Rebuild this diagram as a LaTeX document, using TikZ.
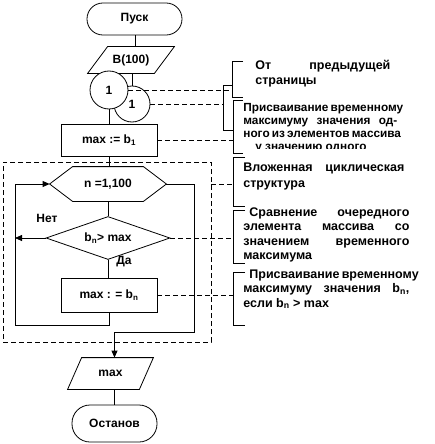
\documentclass[tikz,border=0pt]{standalone}
\usepackage{fontspec}
\setmainfont{Liberation Sans}
\usetikzlibrary{arrows.meta,shapes.geometric,calc}
\newcommand\jline[2]{\makebox[#1][s]{#2}}
\begin{document}
\begin{tikzpicture}[x=1pt,y=-1pt,line width=0.8pt,
  every node/.style={font=\fontsize{12}{14}\selectfont\bfseries},
  term/.style={draw,inner sep=0pt},
  box/.style={draw,inner sep=0pt,minimum width=96pt},
  plain/.style={inner sep=0pt},
  arr/.style={-{Triangle[length=7pt,width=6pt]}},
  dsh/.style={dash pattern=on 5pt off 3pt,line width=0.7pt},
  thinl/.style={line width=0.7pt},
  txt/.style={inner sep=0pt,align=left,anchor=north west,font=\fontsize{12.5}{14.5}\selectfont\bfseries}]
\useasboundingbox (0,0) rectangle (435,444);

% flowchart nodes
\node[term,minimum width=95pt,minimum height=32pt,rounded corners=15.9pt] (start) at (134.5,19) {Пуск};
\node[plain,minimum width=86pt,minimum height=26pt] (inp) at (131,60) {B(100)};
\draw ($(inp.north west)+(20,0)$) -- (inp.north east) -- ($(inp.south east)+(-20,0)$) -- (inp.south west) -- cycle;
\draw (start.south -| 135,0) -- (inp.north -| 135,0);

\node[circle,draw,minimum size=36pt,inner sep=0pt] (c2) at (132,104) {1};
\draw (c2.north |- inp.south) -- (c2.north);
\node[circle,draw,fill=white,minimum size=38pt,inner sep=0pt] (c1) at (109,90) {1};

\node[box,minimum height=32pt] (b1) at (109,140) {max := b\textsubscript{1}};
\draw (c1.south) -- (b1.north);

\node[draw,dash pattern=on 5pt off 3pt,line width=0.7pt,minimum width=208pt,minimum height=180pt,inner sep=0pt] (frame) at (107,252) {};

\node[plain,minimum width=116pt,minimum height=34pt] (hex) at (108,184) {n =1,100};
\draw (hex.west) -- ($(hex.north west)+(23,0)$) -- ($(hex.north east)+(-23,0)$) -- (hex.east) -- ($(hex.south east)+(-23,0)$) -- ($(hex.south west)+(23,0)$) -- cycle;
\draw (b1.south) -- (b1.south |- hex.north);

\node[diamond,draw,aspect=2.9,minimum width=124pt,minimum height=43pt,inner sep=0pt] (dia) at (108,238) {b\textsubscript{n}> max};
\draw (hex.south) -- (dia.north);

\node[box,minimum height=34pt] (bn) at (109,295) {max : = b\textsubscript{n}};
\draw (dia.south) -- (dia.south |- bn.north);

\node (no) at (47,218) {Нет};
\node (yes) at (124,262) {Да};

\coordinate (lb) at (15,325);
\draw[arr] (bn.south) |- (lb) |- (hex.west);
\draw[arr] (dia.west) -- (dia.west -| lb);

\node[plain,minimum width=85pt,minimum height=31pt] (out) at (110.5,373.5) {max};
\draw ($(out.north west)+(14,0)$) -- (out.north east) -- ($(out.south east)+(-14,0)$) -- (out.south west) -- cycle;

\node[term,minimum width=85pt,minimum height=37pt,rounded corners=18pt] (stop) at (114.5,423.5) {Останов};

\coordinate (ex) at (194,332);
\draw[arr] (hex.east) -| (ex) -| (stop.north |- out.north);
\draw (stop.north |- out.south) -- (stop.north);

% brackets
\coordinate (v1) at (232,61);
\coordinate (vj) at (223,85);
\coordinate (v2) at (233,100);
\coordinate (v3) at (233,157);
\coordinate (v4) at (233,210);
\coordinate (v5) at (233,272);
\draw[thinl] (243,61) -- (v1) |- (243,97);
\draw[thinl] (232,85) -- (vj) |- (233,130);
\draw[thinl] (243,100) -- (v2) |- (243,153);
\draw[thinl] (245,157) -- (v3) |- (245,206);
\draw[thinl] (245,210) -- (v4) |- (245,263);
\draw[thinl] (245,272) -- (v5) |- (245,325);

% dashed leaders
\draw[dsh] (c1.east) -- (c1.east -| v1);
\draw[dsh] (c2.east) -- (c2.east -| vj);
\draw[dsh] (b1.east) -- (b1.east -| v2);
\draw[dsh] (frame.east |- hex.east) -- (hex.east -| v3);
\draw[dsh] (dia.east) -- (dia.east -| v4);
\draw[dsh] (bn.east) -- (bn.east -| v5);

% comment texts
\node[txt,font=\fontsize{12.5}{15}\selectfont\bfseries] (tx1) at (255,60) {\jline{135pt}{От предыдущей}\\страницы};
\begin{scope}
\clip (236,95) rectangle (435,148);
\node[txt,font=\fontsize{11.8}{13}\selectfont\bfseries] (tx2) at (243,103) {\jline{154pt}{Присваивание временному}\\\jline{154pt}{максимуму значения од-}\\\jline{154pt}{ного из элементов массива}\\\hspace*{12pt}у значению одного};
\end{scope}
\node[txt,font=\fontsize{12.5}{16}\selectfont\bfseries] (tx3) at (243,162) {\jline{161pt}{Вложенная циклическая}\\структура};
\node[txt] (tx4) at (243,207) {\hspace*{6pt}\jline{160pt}{Сравнение очередного}\\\jline{166pt}{элемента массива со}\\\jline{166pt}{значением временного}\\максимума};
\node[txt] (tx5) at (243,269) {\hspace*{6pt}\jline{160pt}{Присваивание временному}\\\jline{166pt}{максимуму значения b\textsubscript{n},}\\если b\textsubscript{n} > max};
\end{tikzpicture}
\end{document}
